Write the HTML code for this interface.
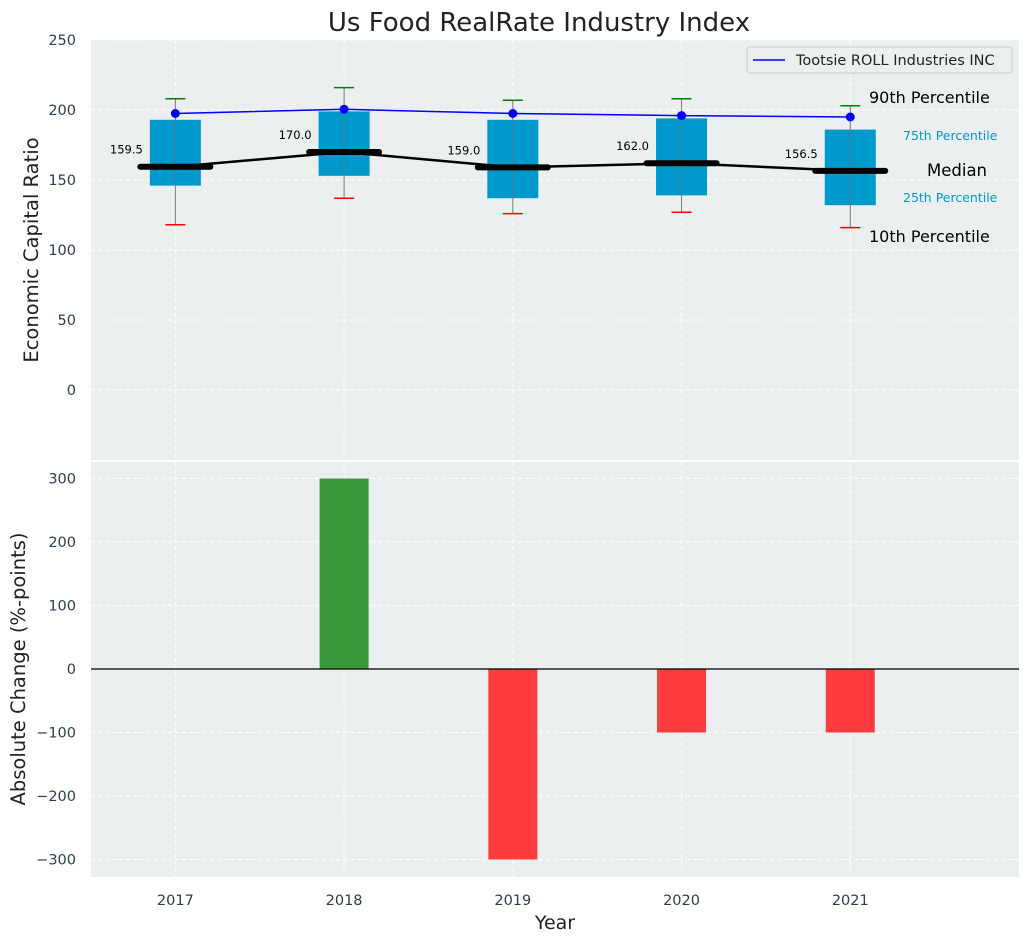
<!DOCTYPE html>
<html><head><meta charset="utf-8"><style>
body{margin:0;background:#fff;font-family:"Liberation Sans","DejaVu Sans",sans-serif}
svg text{font-family:"DejaVu Sans","Liberation Sans",sans-serif}
</style></head><body>
<svg id="c" width="1029" height="942" xmlns="http://www.w3.org/2000/svg"></svg>
<script>
const years=[2017,2018,2019,2020,2021];
const p10=[118,137,126,127,116];
const q1=[146,153,137,139,132];
const med=[159.5,170,159,162,156.5];
const q3=[193,199,193,194,186];
const p90=[208,216,207,208,203];
const company=[197.5,200.5,197.5,196,195];
const changes=[0,300,-300,-100,-100];
const topTicks=[0,50,100,150,200,250];
const botTicks=[-300,-200,-100,0,100,200,300];

const NS="http://www.w3.org/2000/svg";
const svg=document.getElementById('c');
function el(t,a,p){const e=document.createElementNS(NS,t);for(const k in a)e.setAttribute(k,a[k]);(p||svg).appendChild(e);return e;}
const L=91,R=1019;
const TC='#2e3d4f';
const x=v=>L+(v-2016.5)/(2022-2016.5)*(R-L);
const T0=40,T1=460,yT=v=>T0+(250-v)/300*(T1-T0);
const B0=460,B1=877,yB=v=>669-v*(190.5/300);

let bg=el('rect',{x:L,y:T0,width:R-L,height:T1-T0,fill:'#eceff0'});

let bg2=el('rect',{x:L,y:B0+2,width:R-L,height:B1-B0-2,fill:'#eceff0'});


years.forEach(v=>{
  el('line',{x1:x(v),x2:x(v),y1:T0,y2:T1,stroke:'#fff','stroke-dasharray':'4,3'});
  el('line',{x1:x(v),x2:x(v),y1:B0+2,y2:B1,stroke:'#fff','stroke-dasharray':'4,3'});
  let t=el('text',{x:x(v),y:905,'text-anchor':'middle','font-size':14.5,fill:TC});t.textContent=v;
  
});
topTicks.forEach(v=>{
  el('line',{x1:L,x2:R,y1:yT(v),y2:yT(v),stroke:'#fff','stroke-dasharray':'4,3'});
  let t=el('text',{x:76,y:yT(v)+5,'text-anchor':'end','font-size':14.5,fill:TC});t.textContent=v;
  
});
botTicks.forEach(v=>{
  el('line',{x1:L,x2:R,y1:yB(v),y2:yB(v),stroke:'#fff','stroke-dasharray':'4,3'});
  let t=el('text',{x:76,y:yB(v)+5,'text-anchor':'end','font-size':14.5,fill:TC});t.textContent=(v<0?'−':'')+Math.abs(v);
  
});

years.forEach((v,i)=>{
  const cx=x(v);
  el('line',{x1:cx,x2:cx,y1:yT(p90[i]),y2:yT(p10[i]),stroke:'#777','stroke-width':1});
  let b=el('rect',{x:cx-25.5,y:yT(q3[i]),width:51,height:yT(q1[i])-yT(q3[i]),fill:'#0099cc'});
  
  el('line',{x1:cx,x2:cx,y1:yT(q3[i]),y2:yT(q1[i]),stroke:'#777','stroke-width':1,opacity:.7});
  el('line',{x1:cx-10,x2:cx+10,y1:yT(p90[i]),y2:yT(p90[i]),stroke:'green','stroke-width':1.5});
  el('line',{x1:cx-10,x2:cx+10,y1:yT(p10[i]),y2:yT(p10[i]),stroke:'red','stroke-width':1.5});
  let m=el('line',{x1:cx-35,x2:cx+35,y1:yT(med[i]),y2:yT(med[i]),stroke:'#000','stroke-width':6,'stroke-linecap':'round'});
  
  let t=el('text',{x:cx-49,y:yT(med[i])-13,'text-anchor':'middle','font-size':11.5,fill:'#000'});t.textContent=med[i].toFixed(1);
  
});
let mp=el('polyline',{points:years.map((v,i)=>x(v)+','+yT(med[i])).join(' '),fill:'none',stroke:'#000','stroke-width':2.5});

let cp=el('polyline',{points:years.map((v,i)=>x(v)+','+yT(company[i])).join(' '),fill:'none',stroke:'blue','stroke-width':1.5});

years.forEach((v,i)=>{let d=el('circle',{cx:x(v),cy:yT(company[i]),r:4.5,fill:'blue'});
  });

const ann=[['90th Percentile',869,103,16,'#000'],['75th Percentile',903,140,12.5,'#0099cc'],['Median',927,176,16.5,'#000'],['25th Percentile',903,202,12.5,'#0099cc'],['10th Percentile',869,242,16,'#000']];
ann.forEach(a=>{let t=el('text',{x:a[1],y:a[2],'font-size':a[3],fill:a[4]});t.textContent=a[0];
  });

let lg=el('g',{});
el('rect',{x:747,y:47,width:265,height:26,rx:3,fill:'#eceff0',stroke:'#ccc'},lg);
el('line',{x1:753,x2:785,y1:60,y2:60,stroke:'blue','stroke-width':1.5},lg);
let lt=el('text',{x:796,y:65,'font-size':14.5,fill:'#222'},lg);lt.textContent='Tootsie ROLL Industries INC';

years.forEach((v,i)=>{
  const c=changes[i];if(c===0)return;
  let b=el('rect',{x:x(v)-24.5,y:Math.min(yB(c),yB(0)),width:49,height:Math.abs(yB(c)-yB(0)),fill:c>0?'#3a9a3a':'#fd3d3d'});
  
});
el('line',{x1:L,x2:R,y1:yB(0),y2:yB(0),stroke:'#000','stroke-width':1.2});

let tt=el('text',{x:539,y:31,'text-anchor':'middle','font-size':26,fill:'#222'});tt.textContent='Us Food RealRate Industry Index';

let y1=el('text',{x:38,y:250,'text-anchor':'middle','font-size':19.5,fill:'#222',transform:'rotate(-90 38 250)'});y1.textContent='Economic Capital Ratio';

let y2=el('text',{x:25,y:669,'text-anchor':'middle','font-size':19.5,fill:'#222',transform:'rotate(-90 25 669)'});y2.textContent='Absolute Change (%-points)';

let xt=el('text',{x:555,y:929,'text-anchor':'middle','font-size':19,fill:'#222'});xt.textContent='Year';

</script>
</body></html>
